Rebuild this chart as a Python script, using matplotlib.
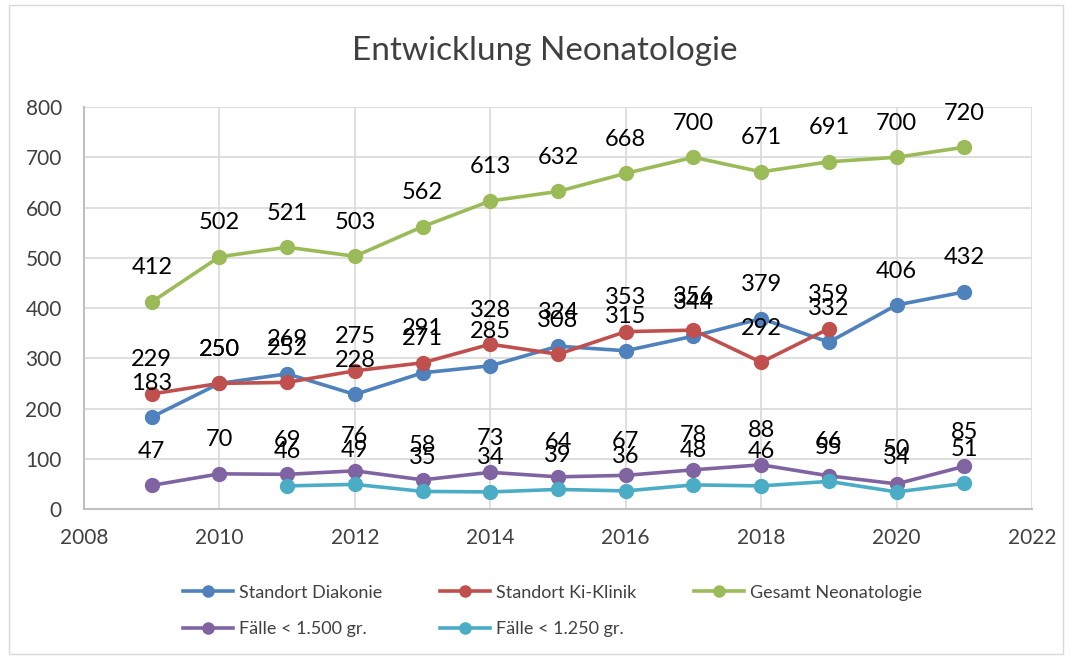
import matplotlib.pyplot as plt
from matplotlib.patches import Rectangle

plt.rcParams['font.family'] = ['Lato', 'DejaVu Sans']

years = list(range(2009, 2022))
diakonie = [183, 250, 269, 228, 271, 285, 324, 315, 344, 379, 332, 406, 432]
ki_klinik = [229, 250, 252, 275, 291, 328, 308, 353, 356, 292, 359]
gesamt = [412, 502, 521, 503, 562, 613, 632, 668, 700, 671, 691, 700, 720]
faelle_1500 = [47, 70, 69, 76, 58, 73, 64, 67, 78, 88, 66, 50, 85]
faelle_1250 = [46, 49, 35, 34, 39, 36, 48, 46, 55, 34, 51]

series = [
    ("Standort Diakonie", years, diakonie, "#4F81BD"),
    ("Standort Ki-Klinik", years[:len(ki_klinik)], ki_klinik, "#C0504D"),
    ("Gesamt Neonatologie", years, gesamt, "#9BBB59"),
    ("Fälle < 1.500 gr.", years, faelle_1500, "#8064A2"),
    ("Fälle < 1.250 gr.", years[2:], faelle_1250, "#4BACC6"),
]

fig = plt.figure(figsize=(10.72, 6.59), dpi=100)
ax = fig.add_axes([0.0784, 0.2276, 0.8843, 0.61])

handles = {}
for name, xs, ys, col in series:
    line, = ax.plot(xs, ys, color=col, lw=2.6, marker='o', ms=10, label=name)
    handles[name] = line
    for x, y in zip(xs, ys):
        ax.annotate(str(y), (x, y), xytext=(0, 34), textcoords='offset pixels',
                    ha='center', va='center', fontsize=17, color='black')

ax.set_xlim(2008, 2022)
ax.set_ylim(0, 800)
ax.set_xticks(range(2008, 2023, 2))
ax.set_yticks(range(0, 801, 100))
ax.tick_params(axis='y', labelsize=15, length=0, pad=16, labelcolor='#404040')
ax.tick_params(axis='x', labelsize=15, length=0, pad=14, labelcolor='#404040')
ax.grid(True, color='#d9d9d9', lw=1.2)
ax.set_axisbelow(True)
for s in ['top', 'right']:
    ax.spines[s].set_visible(False)
ax.spines['left'].set_color('#bfbfbf')
ax.spines['left'].set_linewidth(1.5)
ax.spines['bottom'].set_color('#bfbfbf')
ax.spines['bottom'].set_linewidth(1.5)

fig.text(0.508, 0.922, "Entwicklung Neonatologie", ha='center', va='center',
         fontsize=24, color='#404040')

order = ["Standort Diakonie", "Fälle < 1.500 gr.", "Standort Ki-Klinik",
         "Fälle < 1.250 gr.", "Gesamt Neonatologie"]
fig.legend([handles[n] for n in order], order, ncol=3, loc='center',
           bbox_to_anchor=(0.515, 0.073), frameon=False, fontsize=13,
           labelcolor='#404040', handlelength=2.8, handletextpad=0.3,
           columnspacing=3.2, markerscale=0.8, labelspacing=1.15)

fig.patches.append(Rectangle((0.008, 0.008), 0.984, 0.984, transform=fig.transFigure,
                             fill=False, edgecolor='#d9d9d9', lw=1))

fig.savefig("out.png")
